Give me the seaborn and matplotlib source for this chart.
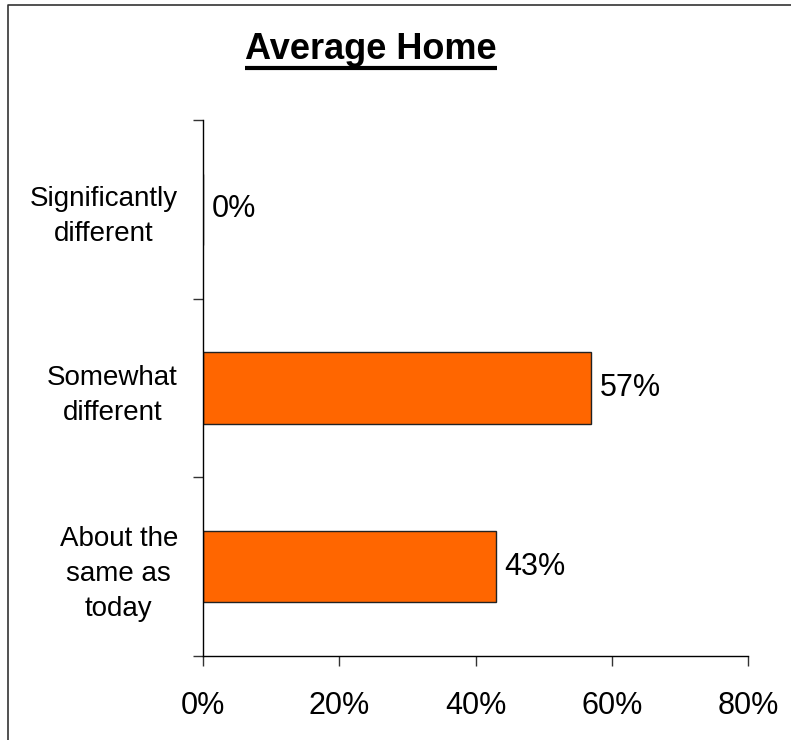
import matplotlib
matplotlib.use("Agg")
import matplotlib.pyplot as plt
import seaborn as sns
import pandas as pd
from matplotlib.lines import Line2D

categories = ["Significantly\ndifferent", "Somewhat\ndifferent", "About the\nsame as\ntoday"]
values = [0, 57, 43]
x_ticks = [0, 20, 40, 60, 80]
x_tick_labels = ["0%", "20%", "40%", "60%", "80%"]
title = "Average Home"

sns.set_theme(style="white")
plt.rcParams["font.family"] = ["Liberation Sans", "DejaVu Sans"]

df = pd.DataFrame({"category": categories, "value": values})

fig = plt.figure(figsize=(7.91, 7.40), dpi=100)
ax = fig.add_axes([203 / 791, 1 - 656 / 740, (748 - 203) / 791, (656 - 120) / 740])

sns.barplot(data=df, x="value", y="category", orient="h", color="#FF6600",
            saturation=1, width=0.4, edgecolor="#222222", linewidth=1, ax=ax)

ax.set_xlim(0, 80)
ax.set_ylim(2.5, -0.5)
ax.set_xlabel("")
ax.set_ylabel("")

for s in ["top", "right"]:
    ax.spines[s].set_visible(False)
for s in ["left", "bottom"]:
    ax.spines[s].set_color("black")
    ax.spines[s].set_linewidth(1)

ax.set_xticks(x_ticks)
ax.set_xticklabels(x_tick_labels, fontsize=22)
ax.tick_params(axis="x", bottom=True, length=7, width=1, color="#333333",
               direction="out", pad=18, labelcolor="black")

# category boundaries get tick marks, category centres get the labels
ax.set_yticks([-0.5, 0.5, 1.5, 2.5])
ax.set_yticklabels([])
ax.set_yticks(range(len(categories)), minor=True)
ax.set_yticklabels(categories, minor=True, fontsize=20,
                   multialignment="center", linespacing=1.45)
ax.tick_params(axis="y", which="major", left=True, length=7, width=1,
               color="#333333", direction="out")
ax.tick_params(axis="y", which="minor", left=False, length=0, pad=18,
               labelcolor="black")

ax.bar_label(ax.containers[0], labels=[f"{v}%" for v in values],
             padding=6, fontsize=22, color="black")

# title with underline
t = fig.text(371 / 791, 1 - 59 / 740, title, ha="center", va="baseline",
             fontsize=26, fontweight="bold", color="black")
fig.canvas.draw()
bb = t.get_window_extent()
yline = 1 - 68 / 740
fig.add_artist(Line2D([bb.x0 / fig.bbox.width, bb.x1 / fig.bbox.width],
                      [yline, yline], transform=fig.transFigure,
                      color="black", linewidth=3, solid_capstyle="butt"))

# frame around the chart area
fig.add_artist(Line2D([8 / 791, 8 / 791, 1.0], [0.0, 1 - 5 / 740, 1 - 5 / 740],
                      transform=fig.transFigure, color="#333333", linewidth=1.2))

fig.savefig("out.png", dpi=100)
